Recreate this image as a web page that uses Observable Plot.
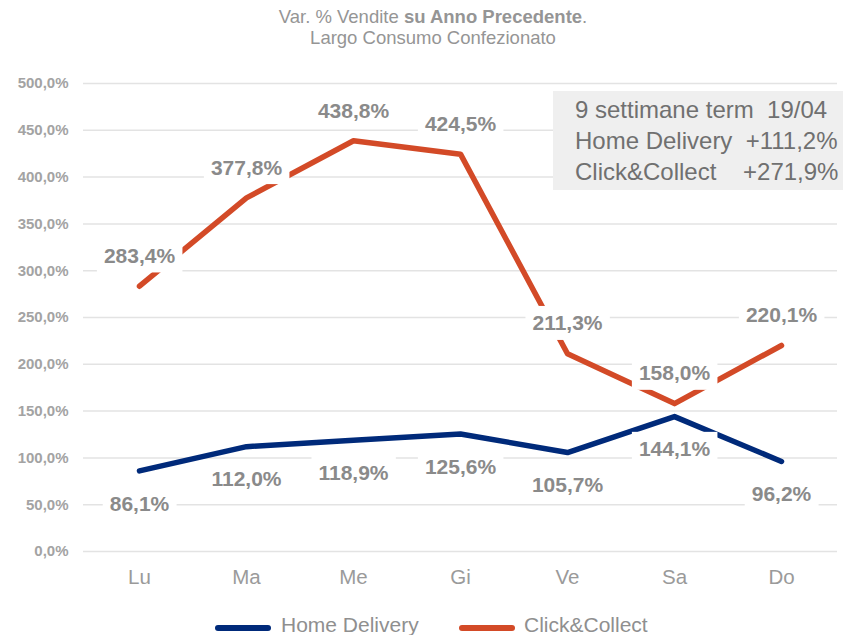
<!DOCTYPE html>
<html>
<head>
<meta charset="utf-8">
<script src="https://cdn.jsdelivr.net/npm/d3@7"></script>
<script src="https://cdn.jsdelivr.net/npm/@observablehq/plot@0.6"></script>
<style>
  html, body { margin: 0; padding: 0; background: #fff; }
  body { width: 843px; height: 635px; overflow: hidden; position: relative; font-family: "Liberation Sans", Arial, sans-serif; }
  #title { position: absolute; left: 23px; top: 6px; width: 820px; text-align: center; color: #959595; font-size: 18.5px; line-height: 21px; }
  #chart { position: absolute; left: 0; top: 60px; }
  #infobox { position: absolute; left: 553px; top: 91px; width: 290px; height: 99px; background: #efefef; color: #707070; font-size: 24px; line-height: 31px; box-sizing: border-box; padding: 3px 0 0 22px; white-space: pre; overflow: hidden; }
  #legend { position: absolute; top: 611px; left: 0; width: 843px; height: 30px; color: #8f8f8f; font-size: 21px; }
  .sw { position: absolute; height: 6px; border-radius: 3px; top: 14px; }
  .lt { position: absolute; top: 2px; line-height: 24px; }
</style>
</head>
<body>
<div id="title">Var. % Vendite <b>su Anno Precedente</b>.<br>Largo Consumo Confezionato</div>
<div id="chart"></div>
<div id="infobox"></div>
<div id="legend"></div>
<script>
const days = ["Lu", "Ma", "Me", "Gi", "Ve", "Sa", "Do"];
const homeDelivery = [86.1, 112.0, 118.9, 125.6, 105.7, 144.1, 96.2];
const clickCollect = [283.4, 377.8, 438.8, 424.5, 211.3, 158.0, 220.1];
const seriesNames = ["Home Delivery", "Click&Collect"];
const seriesColors = ["#002a7a", "#d34a27"];
const yTicks = [0, 50, 100, 150, 200, 250, 300, 350, 400, 450, 500];
const infoLines = ["9 settimane term  19/04", "Home Delivery  +111,2%", "Click&Collect    +271,9%"];

const fmt = v => v.toFixed(1).replace(".", ",") + "%";

const data = [];
days.forEach((d, i) => {
  data.push({day: d, value: homeDelivery[i], series: seriesNames[0]});
  data.push({day: d, value: clickCollect[i], series: seriesNames[1]});
});
const hd = data.filter(d => d.series === seriesNames[0]);
const cc = data.filter(d => d.series === seriesNames[1]);

const chart = Plot.plot({
  width: 843,
  height: 535,
  marginTop: 23,
  marginBottom: 44,
  marginLeft: 83,
  marginRight: 6,
  style: {fontFamily: "Liberation Sans, Arial, sans-serif", background: "transparent"},
  x: {type: "point", domain: days, padding: 0.5, label: null},
  y: {domain: [0, 500], label: null},
  color: {domain: seriesNames, range: seriesColors},
  marks: [
    Plot.gridY(yTicks, {stroke: "#e3e3e3", strokeOpacity: 1, strokeWidth: 1.5}),
    Plot.axisY(yTicks, {tickSize: 0, tickPadding: 15, tickFormat: fmt, fontSize: 15, fontWeight: "bold", fill: "#a3a3a3"}),
    Plot.axisX({tickSize: 0, tickPadding: 18, fontSize: 20.5, fill: "#9a9a9a"}),
    Plot.lineY(data, {x: "day", y: "value", z: "series", stroke: "series", strokeWidth: 5.5, strokeLinecap: "round", strokeLinejoin: "round"}),
    Plot.text(cc, {x: "day", y: "value", text: d => fmt(d.value), dy: -30, fontSize: 21, fontWeight: "bold", fill: "#8a8a8a", className: "dlabel"}),
    Plot.text(hd, {x: "day", y: "value", text: d => fmt(d.value), dy: 33, fontSize: 21, fontWeight: "bold", fill: "#8a8a8a", className: "dlabel"})
  ]
});
document.getElementById("chart").appendChild(chart);

// white background boxes behind data labels
chart.querySelectorAll("g.dlabel").forEach(g => {
  g.querySelectorAll("text").forEach(t => {
    const b = t.getBBox();
    const r = document.createElementNS("http://www.w3.org/2000/svg", "rect");
    const tr = t.getAttribute("transform");
    if (tr) r.setAttribute("transform", tr);
    r.setAttribute("x", b.x - 7);
    r.setAttribute("y", b.y + b.height / 2 - 17);
    r.setAttribute("width", b.width + 14);
    r.setAttribute("height", 34);
    r.setAttribute("fill", "#ffffff");
    g.insertBefore(r, t);
  });
});

document.getElementById("infobox").textContent = infoLines.join("\n");

const legend = document.getElementById("legend");
const legendPos = [[215, 281], [459, 524]];
seriesNames.forEach((name, i) => {
  const sw = document.createElement("div");
  sw.className = "sw";
  sw.style.left = legendPos[i][0] + "px";
  sw.style.width = "56px";
  sw.style.background = seriesColors[i];
  legend.appendChild(sw);
  const lt = document.createElement("div");
  lt.className = "lt";
  lt.style.left = legendPos[i][1] + "px";
  lt.textContent = name;
  legend.appendChild(lt);
});
</script>
</body>
</html>
